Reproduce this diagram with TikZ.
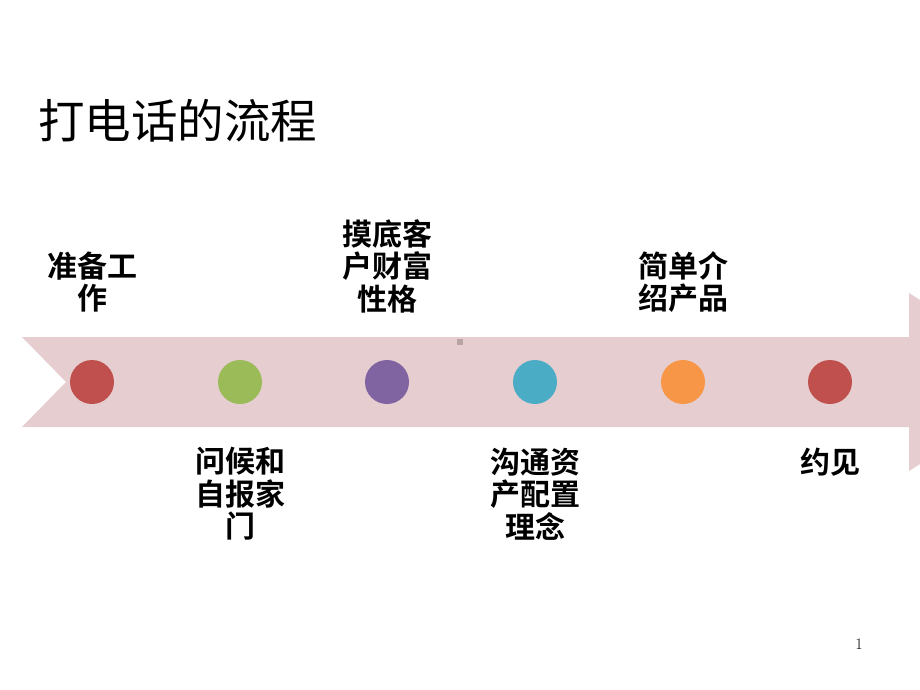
\documentclass[tikz,border=0pt]{standalone}
\usepackage{fontspec}
\newfontfamily\cjk{Noto Sans CJK SC}
\newfontfamily\cjkb{Noto Sans CJK SC Bold}
\definecolor{band}{HTML}{E6CDCF}
\definecolor{cA}{HTML}{C0504D}
\definecolor{cB}{HTML}{9BBB59}
\definecolor{cC}{HTML}{8064A2}
\definecolor{cD}{HTML}{4BACC6}
\definecolor{cE}{HTML}{F79646}
\tikzset{
  dot/.style={circle,minimum size=44pt,inner sep=0pt,draw=none},
  lbl/.style={align=center,inner sep=0pt,font=\fontsize{30}{32.5}\cjkb},
}
\begin{document}
\begin{tikzpicture}[x=1pt,y=-1pt]
\useasboundingbox (0,0) rectangle (920,690);
\begin{scope}
\clip (0,0) rectangle (920,690);
\fill[band] (22,337) -- (909,337) -- (909,293) -- (1050,382) -- (909,471) -- (909,427) -- (22,427) -- (66,382) -- cycle;
\end{scope}
\fill[black!20!band] (457,339) rectangle (463,345);
\node[dot,fill=cA] (d1) at (92,382) {};
\node[dot,fill=cB] (d2) at (240,382) {};
\node[dot,fill=cC] (d3) at (387,382) {};
\node[dot,fill=cD] (d4) at (535,382) {};
\node[dot,fill=cE] (d5) at (683,382) {};
\node[dot,fill=cA] (d6) at (830,382) {};
\node[anchor=west,inner sep=0pt,font=\fontsize{46.5}{50}\cjk] (title) at (38,121) {打电话的流程};
\node[lbl] (t1) at (92,282) {准备工\\作};
\node[lbl] (t3) at (387,266) {摸底客\\户财富\\性格};
\node[lbl] (t5) at (683,282) {简单介\\绍产品};
\node[lbl] (t2) at (240,494) {问候和\\自报家\\门};
\node[lbl] (t4) at (535,494) {沟通资\\产配置\\理念};
\node[lbl] (t6) at (830,462) {约见};
\node[font=\fontsize{16}{18}\selectfont,inner sep=0pt] (pg) at (859,644) {1};
\end{tikzpicture}
\end{document}
